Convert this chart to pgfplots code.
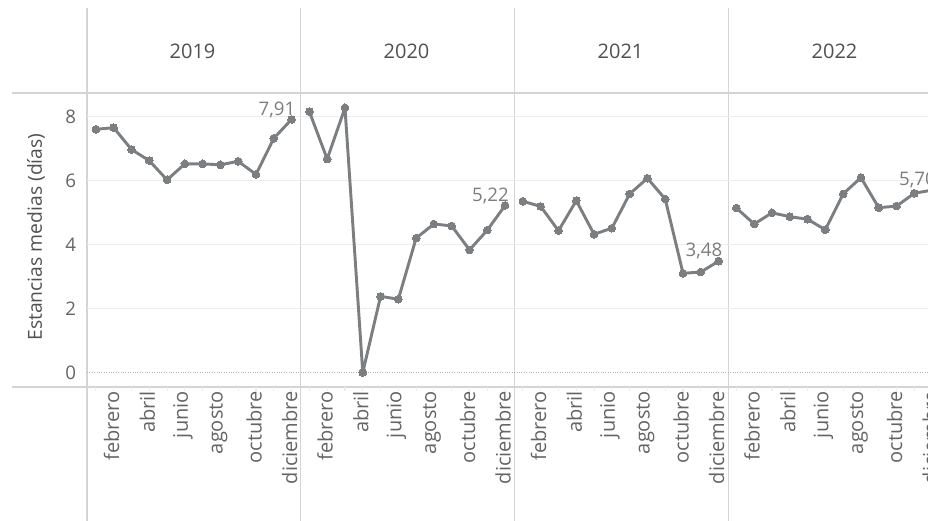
\documentclass[border=0pt]{standalone}
\usepackage{pgfplots}
\pgfplotsset{compat=1.18}
\usepackage{fontspec}
\setmainfont{Open Sans}

\definecolor{linegray}{RGB}{124,127,130}
\definecolor{divgray}{RGB}{212,212,212}
\definecolor{gridgray}{RGB}{236,236,236}
\definecolor{textgray}{RGB}{80,80,80}
\definecolor{ticktext}{RGB}{100,100,100}
\definecolor{labelgray}{RGB}{125,125,125}

\begin{document}
\begin{tikzpicture}[x=0.75pt,y=0.75pt]
\useasboundingbox (0,0) rectangle (928,521);
% facet frame
\draw[divgray, line width=1.1pt] (12,428) -- (928,428);
\draw[divgray, line width=1.1pt] (12,134) -- (928,134);
\foreach \xx in {87,300.5,514.5,728.5}
  \draw[divgray, line width=1.1pt] (\xx,0) -- (\xx,513);
\foreach \yr/\xx in {2019/192.5,2020/406.5,2021/620.5,2022/834.5}
  \node[textgray, font=\fontsize{15}{18}\selectfont] at (\xx,470) {\yr};

\begin{axis}[
    at={(65.25pt,100.5pt)}, anchor=south west,
    scale only axis, width=640.5pt, height=220.5pt,
    xmin=0.5, xmax=48.5, ymin=-0.453, ymax=8.734,
    axis line style={draw=none},
    clip=false,
    tick pos=left,
    ytick={2,4,6,8},
    extra y ticks={0},
    extra y tick style={grid style={densely dotted, color=gray!60, line width=0.7pt}},
    ymajorgrids, grid style={gridgray, line width=0.8pt},
    major tick length=0pt,
    xtick={2,4,...,48},
    xticklabels={febrero,abril,junio,agosto,octubre,diciembre,
                 febrero,abril,junio,agosto,octubre,diciembre,
                 febrero,abril,junio,agosto,octubre,diciembre,
                 febrero,abril,junio,agosto,octubre,diciembre},
    minor xtick={1,...,48},
    tick align=outside,
    minor tick length=3pt,
    minor tick style={gridgray, line width=0.8pt},
    tick label style={color=ticktext, font=\fontsize{14}{16}\selectfont},
    % shifts act in the rotated frame: x runs up, y runs left
    xticklabel style={rotate=90, anchor=east, inner sep=0pt, xshift=-3pt, yshift=1.5pt,
                      font=\fontsize{15}{17}\selectfont},
    yticklabel style={anchor=east, inner sep=0pt, xshift=-8pt},
    /pgf/number format/assume math mode=true,
    ylabel={Estancias medias (días)},
    ylabel style={at={(axis description cs:-0.0597,0.51)}, anchor=center,
                  color=textgray, font=\fontsize{14.5}{17}\selectfont},
    every axis plot/.append style={line join=round},
]
\pgfplotsset{yr/.style={linegray, line width=2.2pt, mark=*, mark size=2.9pt,
    mark options={solid, fill=linegray, draw=linegray, line width=0pt}}}

% 2019
\addplot[yr] coordinates {
(1,7.60) (2,7.65) (3,6.97) (4,6.62) (5,6.02) (6,6.52)
(7,6.52) (8,6.49) (9,6.60) (10,6.19) (11,7.32) (12,7.91)};
% 2020
\addplot[yr] coordinates {
(13,8.15) (14,6.67) (15,8.27) (16,0.00) (17,2.38) (18,2.29)
(19,4.20) (20,4.64) (21,4.58) (22,3.83) (23,4.45) (24,5.22)};
% 2021
\addplot[yr] coordinates {
(25,5.35) (26,5.19) (27,4.43) (28,5.37) (29,4.32) (30,4.51)
(31,5.58) (32,6.07) (33,5.42) (34,3.10) (35,3.14) (36,3.48)};
% 2022
\addplot[yr] coordinates {
(37,5.14) (38,4.64) (39,4.99) (40,4.87) (41,4.79) (42,4.46)
(43,5.58) (44,6.09) (45,5.15) (46,5.20) (47,5.60) (48,5.70)};

% value labels on the last month of each year
\addplot[draw=none, mark=none, nodes near coords, point meta=explicit symbolic,
    every node near coord/.style={anchor=south east, inner sep=0pt,
        xshift=3pt, yshift=1.2pt, color=labelgray,
        font=\fontsize{14}{16}\selectfont}]
coordinates {(12,7.91)[7,91] (24,5.22)[5,22] (36,3.48)[3,48] (48,5.70)[5,70]};
\end{axis}
\end{tikzpicture}
\end{document}
